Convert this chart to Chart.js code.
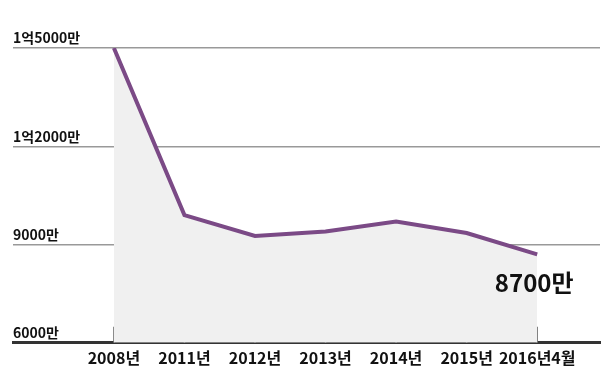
<!DOCTYPE html>
<html>
<head>
<meta charset="utf-8">
<script src="https://cdn.jsdelivr.net/npm/chart.js@4"></script>
<style>
html,body{margin:0;padding:0;background:#fff;}
#wrap{width:603px;height:379px;position:relative;}
</style>
</head>
<body>
<div id="wrap"><canvas id="c" width="603" height="379"></canvas></div>
<script>
const categories = ['2008년','2011년','2012년','2013년','2014년','2015년','2016년4월'];
const values = [15000, 9900, 9260, 9400, 9700, 9350, 8700];
const yTicks = [6000, 9000, 12000, 15000];
const yTickLabels = ['6000만','9000만','1억2000만','1억5000만'];
const endLabel = '8700만';

const FONT = '"Noto Sans CJK KR", sans-serif';

const tickMarks = {
  id: 'tickMarks',
  beforeDatasetsDraw(chart) {
    const {ctx, scales:{x, y}} = chart;
    const base = y.getPixelForValue(6000);
    ctx.save();
    ctx.strokeStyle = '#777';
    ctx.lineWidth = 1.5;
    categories.forEach((c, i) => {
      const px = x.getPixelForValue(i);
      ctx.beginPath();
      ctx.moveTo(px, base - 16);
      ctx.lineTo(px, base);
      ctx.stroke();
    });
    ctx.restore();
  },
  afterDatasetsDraw(chart) {
    const {ctx} = chart;
    const meta = chart.getDatasetMeta(0);
    const pt = meta.data[values.length - 1];
    ctx.save();
    ctx.fillStyle = '#111';
    ctx.font = 'bold 24px ' + FONT;
    ctx.textAlign = 'center';
    ctx.textBaseline = 'middle';
    ctx.fillText(endLabel, pt.x - 3, pt.y + 29);
    ctx.restore();
  }
};

new Chart(document.getElementById('c'), {
  type: 'line',
  data: {
    datasets: [{
      data: values.map((v, i) => ({x: i, y: v})),
      borderColor: '#7b4a86',
      borderWidth: 4,
      backgroundColor: '#f0f0f0',
      fill: 'start',
      pointRadius: 0,
      tension: 0
    }]
  },
  options: {
    responsive: false,
    animation: false,
    layout: {padding: {left: 13, right: 3, top: 48, bottom: 5}},
    plugins: {legend: {display: false}, tooltip: {enabled: false}},
    scales: {
      x: {
        type: 'linear',
        min: -1.43,
        max: 6.89,
        afterBuildTicks(axis) { axis.ticks = categories.map((c, i) => ({value: i})); },
        grid: {display: false, drawTicks: false},
        border: {display: true, color: '#333', width: 3},
        ticks: {
          padding: 6,
          color: '#111',
          font: {family: FONT, size: 16, weight: 'bold'},
          callback: (v) => categories[v],
          maxRotation: 0,
          autoSkip: false
        }
      },
      y: {
        min: 6000,
        max: 15000,
        afterBuildTicks(axis) { axis.ticks = yTicks.map(v => ({value: v})); },
        grid: {color: '#999', lineWidth: 1.5, drawTicks: false},
        border: {display: false},
        ticks: {
          mirror: true,
          padding: 0,
          labelOffset: -10,
          color: '#111',
          font: {family: FONT, size: 14, weight: 'bold'},
          callback: (v) => yTickLabels[yTicks.indexOf(v)]
        }
      }
    }
  },
  plugins: [tickMarks]
});
</script>
</body>
</html>
